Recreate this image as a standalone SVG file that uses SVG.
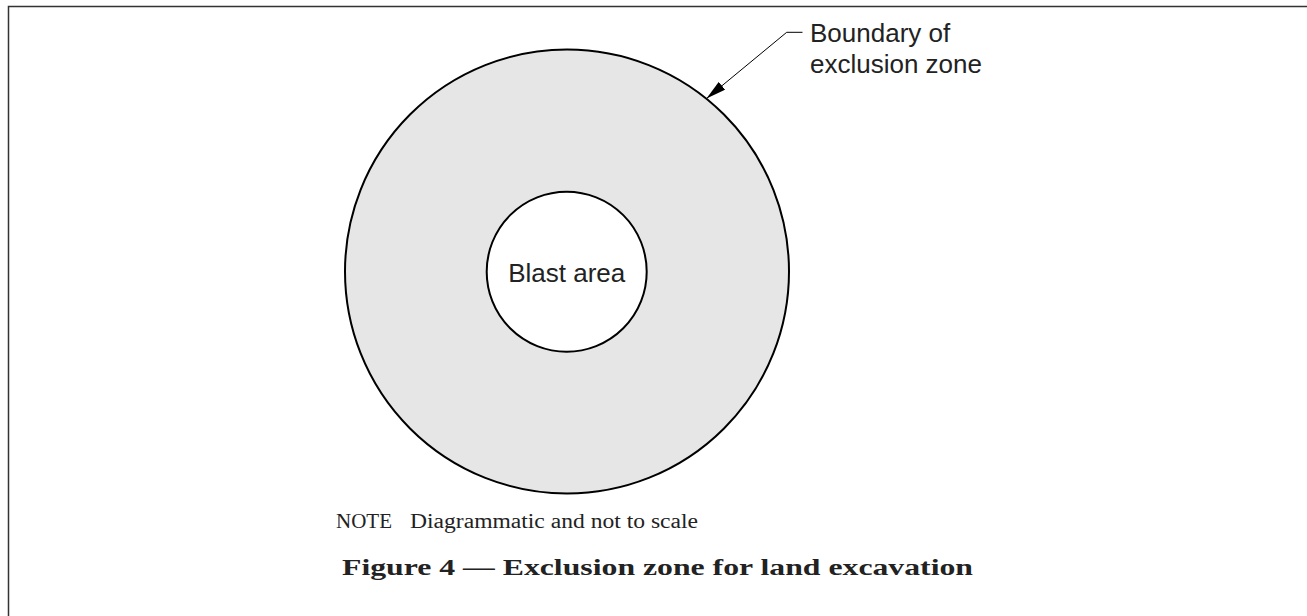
<svg xmlns="http://www.w3.org/2000/svg" width="1307" height="616" viewBox="0 0 1307 616">
<defs>
<style>
.frame{fill:none;stroke:#333;stroke-width:1.5}
.ring{stroke:#000;stroke-width:2}
.lbl{font-family:"Liberation Sans",Arial,sans-serif;font-size:26px;fill:#222}
.note{font-family:"Liberation Serif","Times New Roman",serif;font-size:20px;fill:#222}
.cap{font-family:"Liberation Serif","Times New Roman",serif;font-size:24px;font-weight:bold;fill:#222}
.leader{fill:none;stroke:#000;stroke-width:1}
</style>
<marker id="arr" viewBox="0 0 20 10" refX="20" refY="5" markerWidth="20" markerHeight="10" markerUnits="userSpaceOnUse" orient="auto">
<path d="M0,0 L20,5 L0,10 Z" fill="#000"/>
</marker>
</defs>
<rect width="1307" height="616" fill="#fff"/>
<path class="frame" d="M8.5,616 V6.5 H1307"/>
<g id="exclusion-zone">
<circle class="ring" cx="567" cy="271.5" r="222" fill="#e6e6e6"/>
</g>
<g id="blast-area">
<circle class="ring" cx="566.7" cy="271.7" r="80" fill="#fff"/>
<text class="lbl" x="566.7" y="282" text-anchor="middle">Blast area</text>
</g>
<g id="boundary-label">
<text class="lbl" x="810" y="42">Boundary of</text>
<text class="lbl" x="810" y="73">exclusion zone</text>
</g>
<g id="connectors">
<path class="leader" d="M802.5,32.3 H786.7 L706.5,98.5" marker-end="url(#arr)"/>
</g>
<g id="notes">
<text class="note" x="336" y="528" textLength="56" lengthAdjust="spacingAndGlyphs">NOTE</text>
<text class="note" x="410" y="528" textLength="288" lengthAdjust="spacingAndGlyphs">Diagrammatic and not to scale</text>
<text class="cap" x="342" y="575" textLength="631" lengthAdjust="spacingAndGlyphs">Figure 4 — Exclusion zone for land excavation</text>
</g>
</svg>
